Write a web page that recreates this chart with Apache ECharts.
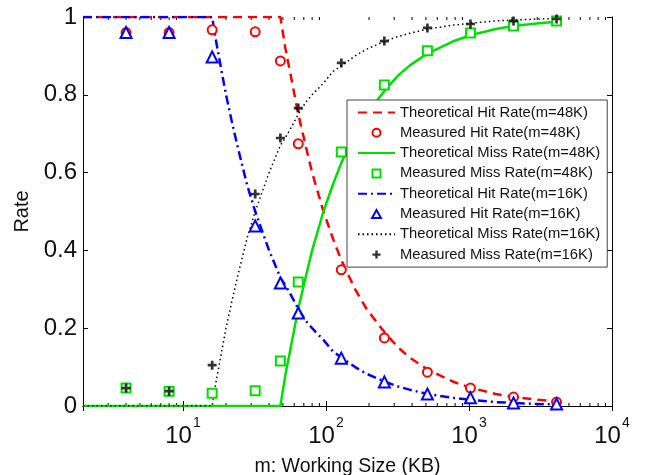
<!DOCTYPE html>
<html><head><meta charset="utf-8">
<script src="https://cdn.jsdelivr.net/npm/echarts@6/dist/echarts.min.js"></script>
<style>html,body{margin:0;padding:0;background:#fff}#c{width:650px;height:475px}</style>
</head><body><div id="c"></div>
<script>
// Measured data
const xMeas = [4, 8, 16, 32, 48, 64, 128, 256, 512, 1024, 2048, 4096];
const hit48Meas  = [0.96, 0.96, 0.967, 0.962, 0.887, 0.674, 0.35, 0.175, 0.087, 0.046, 0.023, 0.01];
const miss48Meas = [0.046, 0.038, 0.033, 0.039, 0.116, 0.319, 0.653, 0.825, 0.913, 0.959, 0.977, 0.99];
const hit16Meas  = [0.96, 0.96, 0.897, 0.463, 0.316, 0.239, 0.123, 0.062, 0.031, 0.021, 0.008, 0.005];
const miss16Meas = [0.046, 0.038, 0.105, 0.545, 0.689, 0.766, 0.882, 0.938, 0.972, 0.982, 0.99, 0.995];
// Theoretical curves
const xTheo = [2, 16, 17, 18, 20, 22, 24, 28, 32, 40, 48, 52, 56, 64, 72, 80, 96, 112, 128, 160, 192, 256, 320, 384, 512, 768, 1024, 1536, 2048, 3072, 4096];
const hit48Theo  = [1, 1, 1, 1, 1, 1, 1, 1, 1, 1, 1, 0.92, 0.86, 0.75, 0.67, 0.6, 0.5, 0.43, 0.375, 0.3, 0.25, 0.19, 0.15, 0.125, 0.094, 0.063, 0.047, 0.031, 0.023, 0.016, 0.012];
const miss48Theo = [0, 0, 0, 0, 0, 0, 0, 0, 0, 0, 0, 0.08, 0.14, 0.25, 0.33, 0.4, 0.5, 0.57, 0.625, 0.7, 0.75, 0.81, 0.85, 0.875, 0.906, 0.937, 0.953, 0.969, 0.977, 0.984, 0.988];
const hit16Theo  = [1, 1, 0.94, 0.89, 0.8, 0.73, 0.67, 0.57, 0.5, 0.4, 0.33, 0.31, 0.29, 0.25, 0.22, 0.2, 0.17, 0.14, 0.125, 0.1, 0.083, 0.063, 0.05, 0.042, 0.031, 0.021, 0.016, 0.01, 0.008, 0.005, 0.004];
const miss16Theo = [0, 0, 0.06, 0.11, 0.2, 0.27, 0.33, 0.43, 0.5, 0.6, 0.67, 0.69, 0.71, 0.75, 0.78, 0.8, 0.83, 0.86, 0.875, 0.9, 0.917, 0.937, 0.95, 0.958, 0.969, 0.979, 0.984, 0.99, 0.992, 0.995, 0.996];
// Axis ticks
const yTicks = [0, 0.2, 0.4, 0.6, 0.8, 1];
const xMinorTicks = [3,4,5,6,7,8,9,20,30,40,50,60,70,80,90,200,300,400,500,600,700,800,900,2000,3000,4000,5000,6000,7000,8000,9000];
const names = [
  'Theoretical Hit Rate(m=48K)', 'Measured Hit Rate(m=48K)',
  'Theoretical Miss Rate(m=48K)', 'Measured Miss Rate(m=48K)',
  'Theoretical Hit Rate(m=16K)', 'Measured Hit Rate(m=16K)',
  'Theoretical Miss Rate(m=16K)', 'Measured Miss Rate(m=16K)'
];

const zip = (xs, ys) => xs.map((x, i) => [x, ys[i]]);
const FONT = 'Liberation Sans, Arial, sans-serif';
const RED = '#ff0000', GREEN = '#00e000', BLUE = '#0000ff', BLACK = '#000000';
const plus = 'path://M3.5,0h3v3.5h3.5v3h-3.5v3.5h-3v-3.5h-3.5v-3h3.5z';
const squareIcon = 'path://M0,0h10v10h-10z';
const triIcon = 'path://M5,0L10,9H0Z';

function lineS(name, ys, color, type, width) {
  return { name, type: 'line', data: zip(xTheo, ys), symbol: 'none', showSymbol: false,
    lineStyle: { color, type, width }, itemStyle: { color }, z: 2, silent: true, animation: false };
}
function scatS(name, ys, color, symbol, size, hollow) {
  return { name, type: 'scatter', data: zip(xMeas, ys), symbol, symbolSize: size, symbolKeepAspect: true, z: 3, silent: true, animation: false,
    itemStyle: hollow ? { color: '#ffffff', borderColor: color, borderWidth: 2, opacity: 1 } : { color, borderWidth: 0 } };
}

const legendData = [
  { name: names[0], itemStyle: { opacity: 0 } },
  { name: names[1] },
  { name: names[2], itemStyle: { opacity: 0 } },
  { name: names[3], icon: squareIcon },
  { name: names[4], itemStyle: { opacity: 0 } },
  { name: names[5], icon: triIcon },
  { name: names[6], itemStyle: { opacity: 0 } },
  { name: names[7] }
];

const chart = echarts.init(document.getElementById('c'), null, { renderer: 'canvas' });
const axisLine = { show: true, lineStyle: { color: '#000', width: 1 } };
chart.setOption({
  backgroundColor: '#fff',
  animation: false,
  grid: { left: 83, right: 38, top: 17, bottom: 69, containLabel: false, outerBoundsMode: 'none' },
  legend: {
    data: legendData, orient: 'vertical', left: 347, top: 100,
    backgroundColor: '#fff', borderColor: '#444', borderWidth: 1, borderRadius: 0,
    padding: [5, 7, 5, 10], itemWidth: 37, itemHeight: 8, itemGap: 5.3,
    textStyle: { fontFamily: FONT, fontSize: 14.8, color: '#111', lineHeight: 15 }
  },
  xAxis: [{
    type: 'log', logBase: 10, min: 2, max: 10000,
    name: 'm: Working Size (KB)', nameLocation: 'middle', nameGap: 51,
    nameTextStyle: { fontFamily: FONT, fontSize: 19.5, color: '#111', lineHeight: 20, verticalAlign: 'top' },
    axisLine, splitLine: { show: false },
    axisTick: { show: true, inside: true, length: 5, lineStyle: { color: '#000' } },
    axisLabel: {
      margin: 10, color: '#111',
      formatter: v => {
        const e = Math.log10(v);
        if (Math.abs(e - Math.round(e)) > 1e-6) return '';
        return '{b|10}{s|' + Math.round(e) + '}';
      },
      rich: {
        b: { fontFamily: FONT, fontSize: 24, color: '#111', lineHeight: 32, verticalAlign: 'bottom' },
        s: { fontFamily: FONT, fontSize: 14, color: '#111', lineHeight: 32, verticalAlign: 'top', padding: [0, 0, 0, 1] }
      }
    }
  }, {
    type: 'log', logBase: 10, min: 2, max: 10000, position: 'top',
    axisLine, splitLine: { show: false }, axisLabel: { show: false },
    axisTick: { show: true, inside: true, length: 5, lineStyle: { color: '#000' } }
  }],
  yAxis: [{
    type: 'value', min: 0, max: 1, interval: 0.2,
    name: 'Rate', nameLocation: 'middle', nameGap: 45, nameRotate: 90,
    nameTextStyle: { fontFamily: FONT, fontSize: 20, color: '#111' },
    axisLine, splitLine: { show: false },
    axisTick: { show: true, inside: true, length: 5, lineStyle: { color: '#000' } },
    axisLabel: { margin: 6, fontFamily: FONT, fontSize: 24, color: '#111',
      formatter: v => { const t = yTicks.find(k => Math.abs(k - v) < 1e-9); return t === undefined ? '' : String(t); } }
  }, {
    type: 'value', min: 0, max: 1, interval: 0.2, position: 'right',
    axisLine, splitLine: { show: false }, axisLabel: { show: false },
    axisTick: { show: true, inside: true, length: 5, lineStyle: { color: '#000' } }
  }],
  series: [
    lineS(names[0], hit48Theo, RED, [9, 6], 2.5),
    scatS(names[1], hit48Meas, RED, 'circle', 9, true),
    lineS(names[2], miss48Theo, GREEN, 'solid', 2.5),
    scatS(names[3], miss48Meas, GREEN, 'rect', 9, true),
    lineS(names[4], hit16Theo, BLUE, [9, 4, 2, 4], 2.5),
    scatS(names[5], hit16Meas, BLUE, 'triangle', 11, true),
    lineS(names[6], miss16Theo, BLACK, [1.5, 3], 1.5),
    scatS(names[7], miss16Meas, BLACK, plus, 9, false),
    {
      type: 'custom', name: 'minorTicks', silent: true, z: 1, animation: false,
      data: xMinorTicks.map(v => [v, 0]),
      renderItem: (params, api) => {
        const v = api.value(0);
        const b = api.coord([v, 0]);
        const t = api.coord([v, 1]);
        const st = { stroke: '#000', lineWidth: 1 };
        return { type: 'group', children: [
          { type: 'line', shape: { x1: b[0], y1: b[1], x2: b[0], y2: b[1] - 3 }, style: st },
          { type: 'line', shape: { x1: t[0], y1: t[1], x2: t[0], y2: t[1] + 3 }, style: st }
        ] };
      }
    }
  ]
});
</script></body></html>
